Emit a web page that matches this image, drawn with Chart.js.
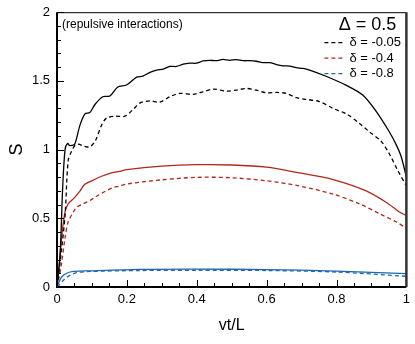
<!DOCTYPE html>
<html>
<head>
<meta charset="utf-8">
<script src="https://cdn.jsdelivr.net/npm/chart.js@4.4.1/dist/chart.umd.min.js"></script>
<style>
  html, body { margin: 0; padding: 0; background: #fff; }
  #wrap { width: 415px; height: 344px; }
</style>
</head>
<body>
<div id="wrap"><canvas id="chart" width="415" height="344"></canvas></div>
<script>
// delta = -0.05
const blackSolidX = [0, 0.009, 0.016, 0.023, 0.03, 0.036, 0.042, 0.051, 0.066, 0.08, 0.094, 0.109, 0.131, 0.151, 0.174, 0.199, 0.228, 0.246, 0.266, 0.285, 0.304, 0.323, 0.342, 0.361, 0.38, 0.399, 0.418, 0.437, 0.456, 0.475, 0.494, 0.513, 0.532, 0.551, 0.57, 0.589, 0.609, 0.628, 0.647, 0.666, 0.685, 0.704, 0.723, 0.77, 0.828, 0.875, 0.913, 0.951, 0.97, 0.985, 1.0];
const blackSolidS = [0, 0.24, 0.71, 1.0, 1.045, 1.03, 1.03, 1.04, 1.18, 1.26, 1.27, 1.33, 1.385, 1.39, 1.456, 1.47, 1.527, 1.535, 1.5625, 1.579, 1.586, 1.605, 1.605, 1.622, 1.629, 1.629, 1.645, 1.65, 1.647, 1.657, 1.65, 1.655, 1.647, 1.647, 1.643, 1.633, 1.633, 1.619, 1.61, 1.608, 1.596, 1.591, 1.579, 1.534, 1.468, 1.397, 1.28, 1.13, 1.04, 0.95, 0.8];
const blackDashX = [0, 0.012, 0.023, 0.032, 0.042, 0.051, 0.06, 0.08, 0.094, 0.109, 0.128, 0.142, 0.166, 0.194, 0.217, 0.237, 0.266, 0.294, 0.323, 0.351, 0.39, 0.418, 0.447, 0.485, 0.513, 0.542, 0.57, 0.599, 0.628, 0.656, 0.685, 0.713, 0.751, 0.79, 0.828, 0.866, 0.894, 0.928, 0.951, 0.975, 1.0];
const blackDashS = [0, 0.25, 0.52, 0.92, 0.99, 1.03, 1.04, 1.023, 1.02, 1.06, 1.18, 1.23, 1.243, 1.243, 1.29, 1.338, 1.355, 1.345, 1.385, 1.409, 1.402, 1.421, 1.44, 1.426, 1.433, 1.445, 1.433, 1.414, 1.416, 1.409, 1.378, 1.365, 1.35, 1.3, 1.26, 1.19, 1.13, 1.06, 0.97, 0.85, 0.735];

// delta = -0.4
const redSolidX = [0, 0.006, 0.013, 0.023, 0.032, 0.051, 0.066, 0.08, 0.104, 0.128, 0.156, 0.18, 0.2, 0.3, 0.4, 0.5, 0.6, 0.694, 0.79, 0.885, 0.942, 0.98, 1.0];
const redSolidS = [0, 0.15, 0.357, 0.546, 0.605, 0.652, 0.7, 0.747, 0.778, 0.806, 0.83, 0.842, 0.855, 0.879, 0.89, 0.888, 0.872, 0.83, 0.782, 0.7, 0.617, 0.546, 0.52];
const redDashX = [0, 0.006, 0.013, 0.023, 0.032, 0.047, 0.056, 0.075, 0.094, 0.113, 0.137, 0.16, 0.18, 0.2, 0.3, 0.4, 0.5, 0.6, 0.694, 0.79, 0.866, 0.923, 0.97, 1.0];
const redDashS = [0, 0.07, 0.17, 0.357, 0.475, 0.546, 0.58, 0.605, 0.629, 0.66, 0.695, 0.723, 0.735, 0.75, 0.78, 0.798, 0.795, 0.773, 0.735, 0.676, 0.605, 0.534, 0.475, 0.428];

// delta = -0.8
const blueSolidX = [0, 0.005, 0.013, 0.028, 0.047, 0.094, 0.237, 0.4, 0.6, 0.8, 1.0];
const blueSolidS = [0, 0.03, 0.073, 0.1, 0.113, 0.118, 0.128, 0.13, 0.127, 0.116, 0.097];
const blueDashX = [0, 0.01, 0.023, 0.037, 0.056, 0.094, 0.237, 0.4, 0.6, 0.8, 1.0];
const blueDashS = [0, 0.025, 0.061, 0.085, 0.104, 0.113, 0.12, 0.122, 0.12, 0.109, 0.078];

const legendLabels = ['δ = -0.05', 'δ = -0.4', 'δ = -0.8'];
const panelTitle = 'Δ = 0.5';
const noteText = '(repulsive interactions)';
const xTitle = 'vt/L';
const yTitle = 'S';

const BLACK = '#000000';
const RED = '#b0281c';
const BLUE = '#1f68b0';
const FONT = "'Liberation Sans', Arial, sans-serif";

const pts = (xs, ys) => xs.map((x, i) => ({ x, y: ys[i] }));

const makeLine = (label, xs, ys, color, dashed) => ({
  label,
  data: pts(xs, ys),
  borderColor: color,
  borderWidth: 1.3,
  borderDash: dashed ? [4, 3] : [],
  pointRadius: 0,
  tension: 0.3,
  fill: false,
});

// inward ticks, frame, legend and labels inside the plot
const decorations = {
  id: 'decorations',
  afterDraw(chart) {
    const { ctx, chartArea: a, scales: { x, y } } = chart;
    ctx.save();
    ctx.strokeStyle = '#000';
    ctx.lineWidth = 1;
    for (let v = 0; v <= 1.0001; v += 0.05) {
      const px = Math.round(x.getPixelForValue(v)) + 0.5;
      const major = Math.abs(v / 0.2 - Math.round(v / 0.2)) < 1e-6;
      ctx.beginPath();
      ctx.moveTo(px, a.bottom);
      ctx.lineTo(px, a.bottom - (major ? 7 : 4));
      ctx.stroke();
    }
    for (let v = 0; v <= 2.0001; v += 0.1) {
      const py = Math.round(y.getPixelForValue(v)) + 0.5;
      const major = Math.abs(v / 0.5 - Math.round(v / 0.5)) < 1e-6;
      ctx.beginPath();
      ctx.moveTo(a.left, py);
      ctx.lineTo(a.left + (major ? 7 : 4), py);
      ctx.stroke();
    }
    // frame
    ctx.lineWidth = 1;
    ctx.beginPath();
    ctx.moveTo(a.left, a.top + 0.5);
    ctx.lineTo(a.right, a.top + 0.5);
    ctx.stroke();
    ctx.strokeStyle = '#333';
    ctx.lineWidth = 2.5;
    ctx.beginPath();
    ctx.moveTo(a.right, a.top);
    ctx.lineTo(a.right, a.bottom);
    ctx.stroke();
    ctx.strokeStyle = '#000';
    ctx.lineWidth = 2;
    ctx.beginPath();
    ctx.moveTo(a.left, a.top);
    ctx.lineTo(a.left, a.bottom);
    ctx.lineTo(a.right, a.bottom);
    ctx.stroke();

    // texts
    ctx.fillStyle = '#000';
    ctx.textBaseline = 'middle';
    ctx.textAlign = 'left';
    ctx.font = '12px ' + FONT;
    ctx.fillText(noteText, a.left + 5, a.top + 12);
    ctx.textAlign = 'right';
    ctx.font = '18px ' + FONT;
    ctx.fillText(panelTitle, a.right - 10, a.top + 13);

    // legend, dashed entries
    const legendDs = [1, 3, 5];
    ctx.font = '13px ' + FONT;
    ctx.textAlign = 'left';
    legendDs.forEach((di, i) => {
      const ds = chart.data.datasets[di];
      const ly = a.top + 30.5 + i * 15.5;
      ctx.strokeStyle = ds.borderColor;
      ctx.lineWidth = 1.3;
      ctx.setLineDash(ds.borderDash);
      ctx.beginPath();
      ctx.moveTo(a.right - 82, ly);
      ctx.lineTo(a.right - 61, ly);
      ctx.stroke();
      ctx.setLineDash([]);
      ctx.fillStyle = '#000';
      ctx.fillText(legendLabels[i], a.right - 57, ly);
    });
    ctx.restore();
  }
};

new Chart(document.getElementById('chart').getContext('2d'), {
  type: 'line',
  data: {
    datasets: [
      makeLine(legendLabels[0], blackSolidX, blackSolidS, BLACK, false),
      makeLine(legendLabels[0], blackDashX, blackDashS, BLACK, true),
      makeLine(legendLabels[1], redSolidX, redSolidS, RED, false),
      makeLine(legendLabels[1], redDashX, redDashS, RED, true),
      makeLine(legendLabels[2], blueSolidX, blueSolidS, BLUE, false),
      makeLine(legendLabels[2], blueDashX, blueDashS, BLUE, true),
    ],
  },
  options: {
    responsive: false,
    animation: false,
    layout: { padding: { top: 5, right: 8, left: 0, bottom: 0 } },
    plugins: { legend: { display: false }, tooltip: { enabled: false } },
    scales: {
      x: {
        type: 'linear',
        min: 0,
        max: 1,
        grid: { display: false, drawTicks: false },
        border: { display: false },
        ticks: {
          stepSize: 0.2,
          padding: 5,
          color: '#000',
          font: { family: FONT, size: 13 },
          callback: (v) => String(Math.round(v * 10) / 10),
        },
        title: { display: true, text: xTitle, color: '#000', font: { family: FONT, size: 16 }, padding: { top: 0, bottom: 9 } },
        afterFit: (s) => { s.height = 57; },
      },
      y: {
        type: 'linear',
        min: 0,
        max: 2,
        grid: { display: false, drawTicks: false },
        border: { display: false },
        ticks: {
          stepSize: 0.5,
          padding: 7,
          color: '#000',
          font: { family: FONT, size: 13, lineHeight: 0.8 },
          callback: (v) => String(v),
        },
        title: { display: true, text: yTitle, color: '#000', font: { family: FONT, size: 18 }, padding: { top: 6, bottom: 0 } },
        afterFit: (s) => { s.width = 57; },
      },
    },
  },
  plugins: [decorations],
});
</script>
</body>
</html>
